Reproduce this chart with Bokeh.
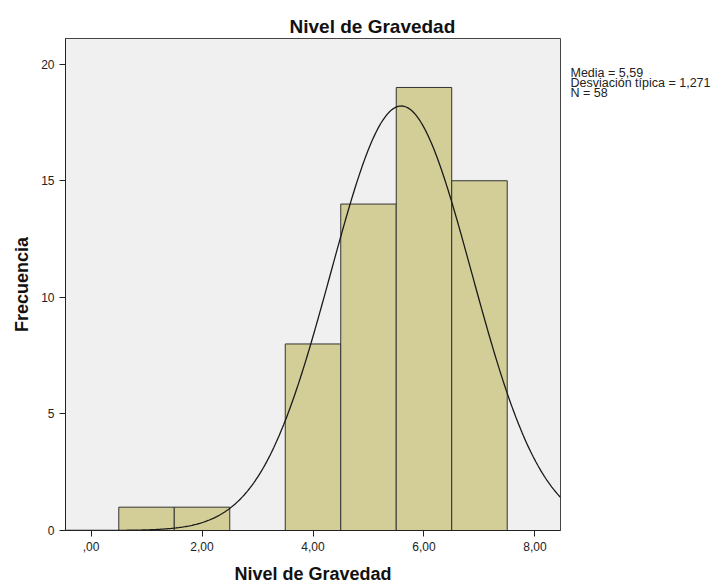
import numpy as np
from bokeh.plotting import figure
from bokeh.models import Range1d, FixedTicker, LinearAxis
from bokeh.embed import file_html
from bokeh.resources import INLINE

# ---- data ----
bin_centers = [1, 2, 4, 5, 6, 7]
bin_counts = [1, 1, 8, 14, 19, 15]
bin_width = 1.0

media = 5.59
desviacion = 1.271
n_total = 58

x_tick_values = [0, 2, 4, 6, 8]
x_tick_labels = [",00", "2,00", "4,00", "6,00", "8,00"]
y_tick_values = [0, 5, 10, 15, 20]
y_tick_labels = ["0", "5", "10", "15", "20"]

stats_lines = ["Media = 5,59", "Desviación típica = 1,271", "N = 58"]

# ---- figure ----
XMIN, XMAX = -0.46, 8.46
YMIN, YMAX = 0, 21.1
FW, FH = 495, 492

p = figure(frame_width=FW, frame_height=FH,
           min_border_left=65, min_border_right=157,
           min_border_top=38, min_border_bottom=53,
           x_range=Range1d(XMIN, XMAX), y_range=Range1d(YMIN, YMAX),
           output_backend="svg", toolbar_location=None,
           title="Nivel de Gravedad")

p.background_fill_color = "#F0F0F0"
p.border_fill_color = "white"
p.outline_line_color = "#444444"
p.outline_line_width = 1
p.grid.visible = False

p.title.text_font = "Liberation Sans"
p.title.text_font_size = "19px"
p.title.text_font_style = "bold"
p.title.text_color = "#111111"
p.title.align = "left"
p.title.offset = 224
p.title.standoff = 3

for ax in (p.xaxis, p.yaxis):
    ax.major_tick_out = 6
    ax.major_tick_in = 0
    ax.minor_tick_out = 0
    ax.minor_tick_in = 0
    ax.major_tick_line_color = "#222222"
    ax.axis_line_color = "#222222"
    ax.major_label_text_font = "Liberation Sans"
    ax.major_label_text_font_size = "12px"
    ax.major_label_text_color = "#222222"
    ax.axis_label_text_font = "Liberation Sans"
    ax.axis_label_text_font_size = "18px"
    ax.axis_label_text_font_style = "bold"
    ax.axis_label_text_color = "#111111"

p.xaxis.ticker = FixedTicker(ticks=x_tick_values)
p.xaxis.major_label_overrides = {v: t for v, t in zip(x_tick_values, x_tick_labels)}
p.yaxis.ticker = FixedTicker(ticks=y_tick_values)
p.yaxis.major_label_overrides = {v: t for v, t in zip(y_tick_values, y_tick_labels)}
p.xaxis.axis_label = "Nivel de Gravedad"
p.yaxis.axis_label = "Frecuencia"
p.xaxis.major_label_standoff = 5
p.yaxis.major_label_standoff = 5
p.xaxis.axis_label_standoff = 10
p.yaxis.axis_label_standoff = 6

# histogram bars
p.vbar(x=bin_centers, top=bin_counts, bottom=0, width=bin_width,
       fill_color="#D3CE97", line_color="#333333", line_width=1)

# fitted normal curve from the displayed statistics
xs = np.linspace(XMIN, XMAX, 400)
ys = n_total * bin_width / (desviacion * np.sqrt(2 * np.pi)) * np.exp(-0.5 * ((xs - media) / desviacion) ** 2)
p.line(xs, ys, line_color="#1a1a1a", line_width=1.3)

# statistics text to the right of the frame, as labels of a bare right axis
px_y = (YMAX - YMIN) / FH
stat_pos = [YMAX - (34.5 + 10 * i) * px_y for i in range(len(stats_lines))]
stats_axis = LinearAxis(ticker=FixedTicker(ticks=stat_pos),
                        major_label_overrides={v: s for v, s in zip(stat_pos, stats_lines)},
                        axis_line_color=None, major_tick_line_color=None,
                        minor_tick_line_color=None,
                        major_tick_out=0, major_tick_in=0,
                        minor_tick_out=0, minor_tick_in=0,
                        major_label_standoff=10,
                        major_label_text_font="Liberation Sans",
                        major_label_text_font_size="12.5px",
                        major_label_text_color="#222222")
p.add_layout(stats_axis, "right")

open("out.html", "w").write(file_html(p, INLINE))
